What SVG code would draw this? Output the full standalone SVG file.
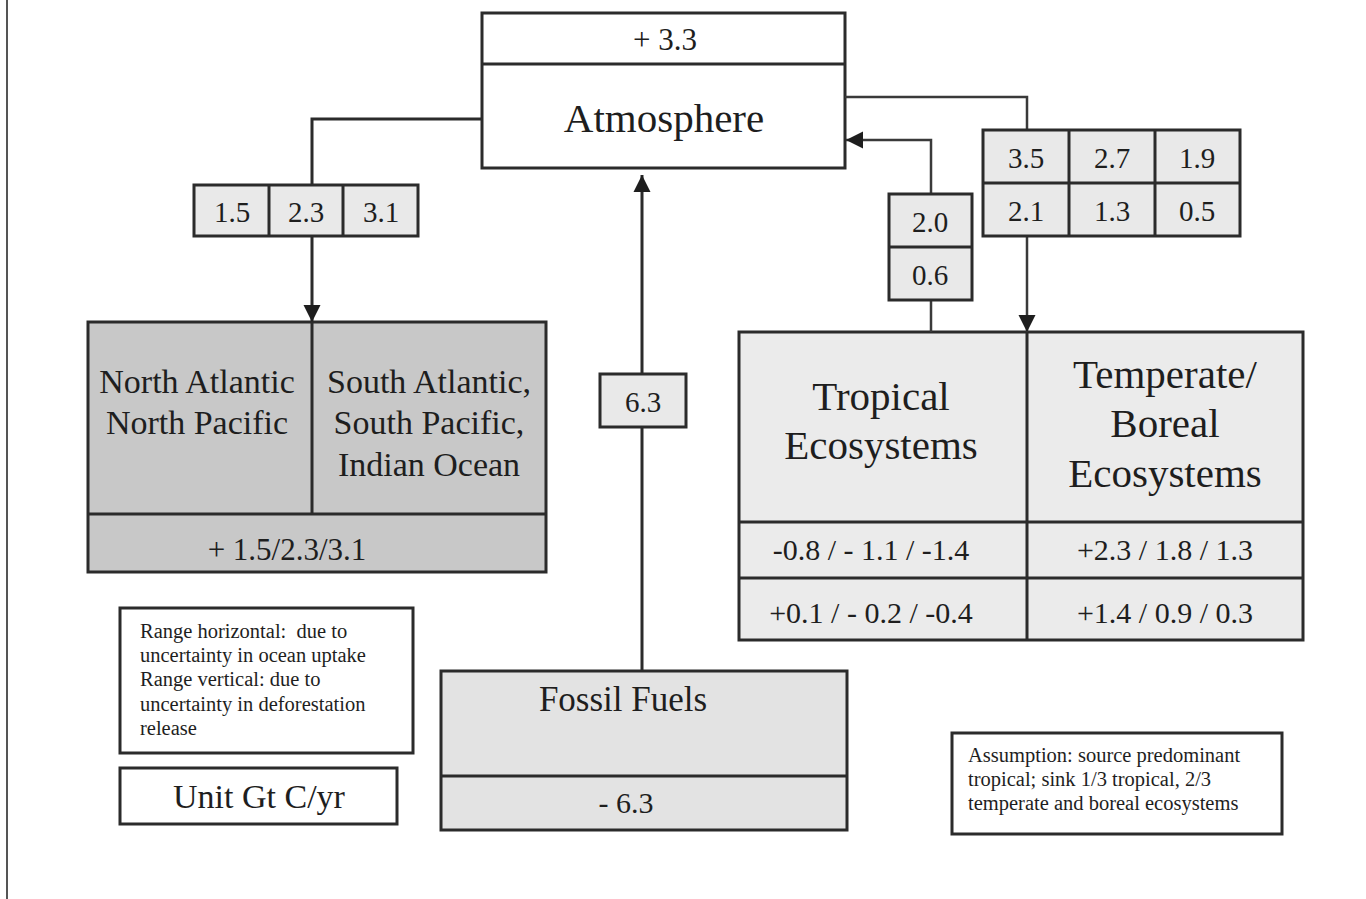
<svg xmlns="http://www.w3.org/2000/svg" width="1366" height="899" viewBox="0 0 1366 899">
<style>
.bx{stroke:#2b2b2b;stroke-width:3}
.ln{fill:none;stroke:#2b2b2b;stroke-width:3}
.cn{fill:none;stroke:#2b2b2b;stroke-width:3}
.cn2{fill:none;stroke:#3a3a3a;stroke-width:2.5}
.t{font-family:"Liberation Serif","Times New Roman",serif;fill:#1e1e1e;text-anchor:middle}
.n{font-family:"Liberation Serif","Times New Roman",serif;fill:#1e1e1e;white-space:pre}
.w{fill:#ffffff}
.g1{fill:#c8c8c8}
.g2{fill:#ebebeb}
.g3{fill:#e3e3e3}
.g4{fill:#e9e9e9}
</style>
<defs>
<marker id="ah" markerUnits="userSpaceOnUse" markerWidth="19" markerHeight="19" viewBox="0 0 19 19" refX="17" refY="9.5" orient="auto">
<path d="M0,1 L17,9.5 L0,18 Z" fill="#1e1e1e"/>
</marker>
</defs>
<rect x="0" y="0" width="1366" height="899" fill="#ffffff"/>
<line x1="7" y1="0" x2="7" y2="899" stroke="#555" stroke-width="2"/>

<g id="atmosphere">
<rect class="bx w" x="482" y="13" width="363" height="155"/>
<line class="ln" x1="482" y1="64" x2="845" y2="64"/>
<text class="t" x="665" y="50" font-size="31">+ 3.3</text>
<text class="t" x="664" y="132" font-size="41">Atmosphere</text>
</g>

<g id="oceans">
<rect class="bx g1" x="88" y="322" width="458" height="250"/>
<line class="ln" x1="312" y1="322" x2="312" y2="514"/>
<line class="ln" x1="88" y1="514" x2="546" y2="514"/>
<text class="t" x="197" y="393" font-size="34">North Atlantic</text>
<text class="t" x="197" y="434" font-size="34">North Pacific</text>
<text class="t" x="429" y="393" font-size="34">South Atlantic,</text>
<text class="t" x="429" y="434" font-size="34">South Pacific,</text>
<text class="t" x="429" y="476" font-size="34">Indian Ocean</text>
<text class="t" x="287" y="560" font-size="31">+ 1.5/2.3/3.1</text>
</g>

<g id="ecosystems">
<rect class="bx g2" x="739" y="332" width="564" height="308"/>
<line class="ln" x1="1027" y1="332" x2="1027" y2="640"/>
<line class="ln" x1="739" y1="522" x2="1303" y2="522"/>
<line class="ln" x1="739" y1="578" x2="1303" y2="578"/>
<text class="t" x="881" y="410" font-size="41">Tropical</text>
<text class="t" x="881" y="459" font-size="41">Ecosystems</text>
<text class="t" x="1165" y="388" font-size="41">Temperate/</text>
<text class="t" x="1165" y="437" font-size="41">Boreal</text>
<text class="t" x="1165" y="487" font-size="41">Ecosystems</text>
<text class="t" x="871" y="560" font-size="30">-0.8 / - 1.1 / -1.4</text>
<text class="t" x="1165" y="560" font-size="30">+2.3 / 1.8 / 1.3</text>
<text class="t" x="871" y="623" font-size="30">+0.1 / - 0.2 / -0.4</text>
<text class="t" x="1165" y="623" font-size="30">+1.4 / 0.9 / 0.3</text>
</g>

<g id="fossil-fuels">
<rect class="bx g3" x="441" y="671" width="406" height="159"/>
<line class="ln" x1="441" y1="776" x2="847" y2="776"/>
<text class="t" x="623" y="711" font-size="35">Fossil Fuels</text>
<text class="t" x="626" y="813" font-size="30">- 6.3</text>
</g>

<g id="note-range">
<rect class="bx w" x="120" y="608" width="293" height="145" stroke-width="2.5"/>
<text class="n" x="140" y="638" font-size="20.5" xml:space="preserve">Range horizontal:  due to</text>
<text class="n" x="140" y="662" font-size="20.5">uncertainty in ocean uptake</text>
<text class="n" x="140" y="686" font-size="20.5">Range vertical: due to</text>
<text class="n" x="140" y="711" font-size="20.5">uncertainty in deforestation</text>
<text class="n" x="140" y="735" font-size="20.5">release</text>
</g>

<g id="note-unit">
<rect class="bx w" x="120" y="768" width="277" height="56" stroke-width="2.5"/>
<text class="t" x="259" y="808" font-size="34">Unit Gt C/yr</text>
</g>

<g id="note-assumption">
<rect class="bx w" x="952" y="733" width="330" height="101" stroke-width="2.5"/>
<text class="n" x="968" y="762" font-size="20.5">Assumption: source predominant</text>
<text class="n" x="968" y="786" font-size="20.5">tropical; sink 1/3 tropical, 2/3</text>
<text class="n" x="968" y="810" font-size="20.5">temperate and boreal ecosystems</text>
</g>

<g id="connectors">
<path class="cn" d="M482,119 H312 V322" marker-end="url(#ah)" stroke-width="3.5"/>
<path class="cn" d="M642,671 V175" marker-end="url(#ah)" stroke-width="3.5"/>
<path class="cn2" d="M845,97 H1027 V332" marker-end="url(#ah)"/>
<path class="cn2" d="M931,332 V140 H846" marker-end="url(#ah)"/>
</g>

<g id="label-ocean-flux">
<rect class="bx g4" x="194" y="185" width="224" height="51" stroke-width="2.5"/>
<line class="ln" x1="269" y1="185" x2="269" y2="236" stroke-width="2.5"/>
<line class="ln" x1="343" y1="185" x2="343" y2="236" stroke-width="2.5"/>
<text class="t" x="232" y="222" font-size="29">1.5</text>
<text class="t" x="306" y="222" font-size="29">2.3</text>
<text class="t" x="381" y="222" font-size="29">3.1</text>
</g>

<g id="label-fossil-flux">
<rect class="bx g4" x="600" y="374" width="86" height="53" stroke-width="2.5"/>
<text class="t" x="643" y="412" font-size="29">6.3</text>
</g>

<g id="label-tropical-flux">
<rect class="bx g4" x="889" y="194" width="83" height="106" stroke-width="2.5"/>
<line class="ln" x1="889" y1="247" x2="972" y2="247" stroke-width="2.5"/>
<text class="t" x="930" y="232" font-size="29">2.0</text>
<text class="t" x="930" y="285" font-size="29">0.6</text>
</g>

<g id="label-temperate-flux">
<rect class="bx g4" x="983" y="130" width="257" height="106" stroke-width="2.5"/>
<line class="ln" x1="983" y1="183" x2="1240" y2="183" stroke-width="2.5"/>
<line class="ln" x1="1069" y1="130" x2="1069" y2="236" stroke-width="2.5"/>
<line class="ln" x1="1155" y1="130" x2="1155" y2="236" stroke-width="2.5"/>
<text class="t" x="1026" y="168" font-size="29">3.5</text>
<text class="t" x="1112" y="168" font-size="29">2.7</text>
<text class="t" x="1197" y="168" font-size="29">1.9</text>
<text class="t" x="1026" y="221" font-size="29">2.1</text>
<text class="t" x="1112" y="221" font-size="29">1.3</text>
<text class="t" x="1197" y="221" font-size="29">0.5</text>
</g>
</svg>
